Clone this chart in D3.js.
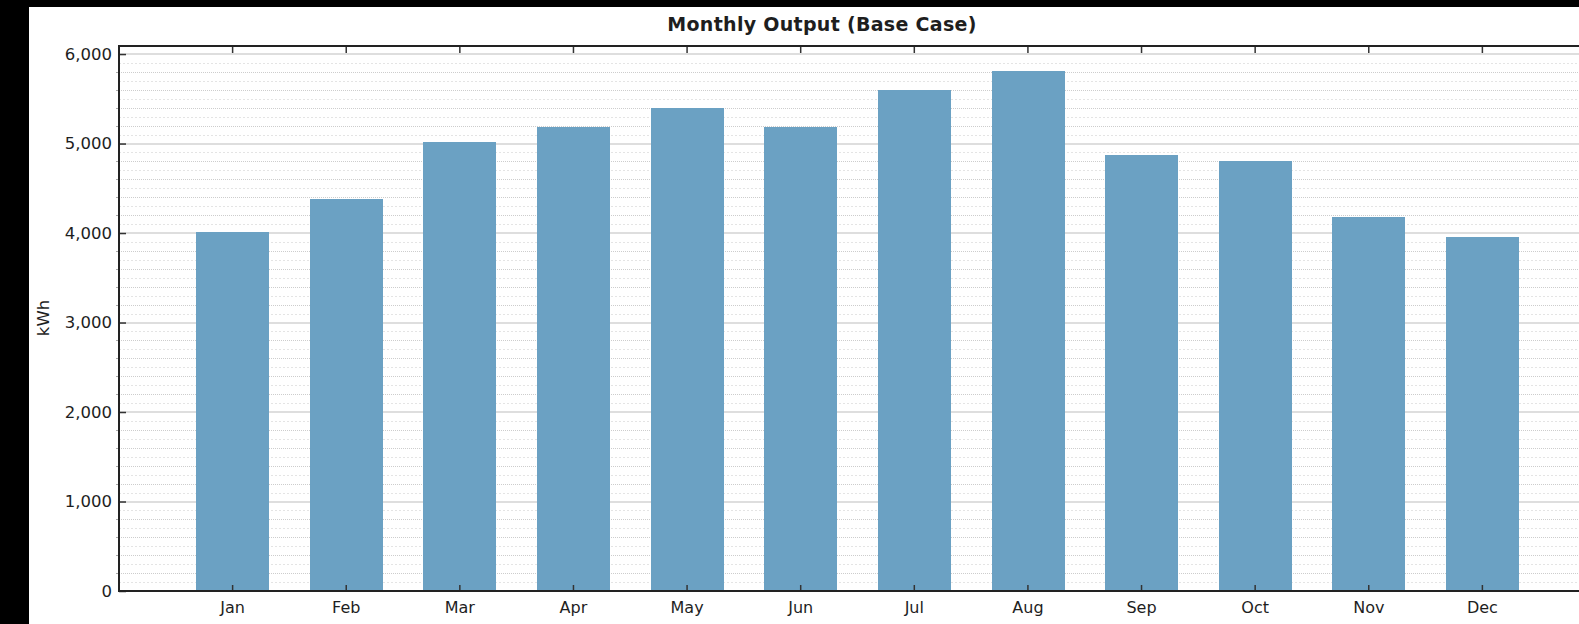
<!DOCTYPE html>
<html>
<head>
<meta charset="utf-8">
<script src="https://cdn.jsdelivr.net/npm/d3@7"></script>
<style>
  html, body { margin: 0; padding: 0; background: #000; }
  svg { display: block; }
  text { font-family: "DejaVu Sans", Verdana, sans-serif; fill: #1e1e1e; }
</style>
</head>
<body>
<svg id="chart" width="1579" height="624"></svg>
<script>
// Monthly energy output, kWh
const months = ["Jan", "Feb", "Mar", "Apr", "May", "Jun", "Jul", "Aug", "Sep", "Oct", "Nov", "Dec"];
const output = [4010, 4380, 5020, 5190, 5400, 5190, 5600, 5810, 4870, 4800, 4180, 3960];
const yTicks = [0, 1000, 2000, 3000, 4000, 5000, 6000];
const title = "Monthly Output (Base Case)";
const yLabel = "kWh";

const svg = d3.select("#chart");
const W = 1579, H = 624;
const panel = { x: 29, y: 7 };
const plot = { left: 119, right: 1596, top: 46, bottom: 591 };

// white chart panel over the black frame
svg.append("rect")
  .attr("x", panel.x).attr("y", panel.y)
  .attr("width", W - panel.x).attr("height", H - panel.y)
  .attr("fill", "#fff");

const y = d3.scaleLinear().domain([0, 6090]).range([plot.bottom, plot.top]);
const x = d3.scaleBand().domain(months)
  .range([plot.left, plot.right])
  .paddingInner(0.36).paddingOuter(0.68);

const grid = svg.append("g");
// fine grid every 100, medium every 200, major every 1000
d3.range(100, 6090, 100).forEach(v => {
  if (v % 1000 === 0) return;
  const is200 = v % 200 === 0;
  const yy = Math.round(y(v)) + 0.5;
  grid.append("line")
    .attr("x1", plot.left).attr("x2", W)
    .attr("y1", yy).attr("y2", yy)
    .attr("stroke", is200 ? "#cdcdcd" : "#e4e4e4")
    .attr("stroke-width", 1)
    .attr("stroke-dasharray", is200 ? "1,1" : "2,2");
});
yTicks.forEach(v => {
  if (v === 0) return;
  const yy = Math.round(y(v));
  grid.append("line")
    .attr("x1", plot.left).attr("x2", W)
    .attr("y1", yy).attr("y2", yy)
    .attr("stroke", "#dedede")
    .attr("stroke-width", 2);
});

// bars
svg.append("g").selectAll("rect")
  .data(months)
  .join("rect")
  .attr("x", d => Math.round(x(d)))
  .attr("width", Math.round(x.bandwidth()))
  .attr("y", (d, i) => Math.round(y(output[i])))
  .attr("height", (d, i) => Math.round(y(0)) - Math.round(y(output[i])))
  .attr("fill", "#6ba1c3");

// left axis: major ticks inside, labels outside
const yAxis = svg.append("g")
  .attr("transform", `translate(${plot.left},0)`)
  .call(d3.axisLeft(y).tickValues(yTicks).tickFormat(d3.format(","))
    .tickSizeInner(-7).tickSizeOuter(0).tickPadding(7));
yAxis.select(".domain").remove();
yAxis.selectAll("line").attr("stroke", "#333").attr("stroke-width", 1.5);
yAxis.selectAll("text").style("font-size", "16.5px").attr("fill", "#1e1e1e");

// minor ticks on the left axis
svg.append("g").selectAll("line")
  .data(d3.range(200, 6090, 200).filter(v => v % 1000 !== 0))
  .join("line")
  .attr("x1", plot.left - 3).attr("x2", plot.left)
  .attr("y1", d => Math.round(y(d)) + 0.5).attr("y2", d => Math.round(y(d)) + 0.5)
  .attr("stroke", "#aaa").attr("stroke-width", 1);

// bottom axis: month labels, ticks pointing up
const xAxis = svg.append("g")
  .attr("transform", `translate(0,${plot.bottom})`)
  .call(d3.axisBottom(x).tickSizeInner(-6).tickSizeOuter(0).tickPadding(11));
xAxis.select(".domain").remove();
xAxis.selectAll("line").attr("stroke", "#333").attr("stroke-width", 1.5);
xAxis.selectAll("text").style("font-size", "16px").attr("fill", "#1e1e1e");

// top axis: ticks only
const xTop = svg.append("g")
  .attr("transform", `translate(0,${plot.top})`)
  .call(d3.axisTop(x).tickSizeInner(-7).tickSizeOuter(0).tickFormat(""));
xTop.select(".domain").remove();
xTop.selectAll("line").attr("stroke", "#333").attr("stroke-width", 1.5);

// frame lines
svg.append("line")
  .attr("x1", plot.left).attr("x2", W)
  .attr("y1", plot.top).attr("y2", plot.top)
  .attr("stroke", "#222").attr("stroke-width", 2);
svg.append("line")
  .attr("x1", plot.left).attr("x2", W)
  .attr("y1", plot.bottom).attr("y2", plot.bottom)
  .attr("stroke", "#222").attr("stroke-width", 2);
svg.append("line")
  .attr("x1", plot.left).attr("x2", plot.left)
  .attr("y1", plot.top - 1).attr("y2", plot.bottom + 1)
  .attr("stroke", "#222").attr("stroke-width", 2);

// title
svg.append("text")
  .attr("x", 822).attr("y", 31)
  .attr("text-anchor", "middle")
  .style("font-size", "19px").style("font-weight", "bold")
  .style("letter-spacing", "0.3px")
  .text(title);

// y axis title
svg.append("text")
  .attr("transform", "translate(49,318) rotate(-90)")
  .attr("text-anchor", "middle")
  .style("font-size", "16.5px")
  .text(yLabel);
</script>
</body>
</html>
